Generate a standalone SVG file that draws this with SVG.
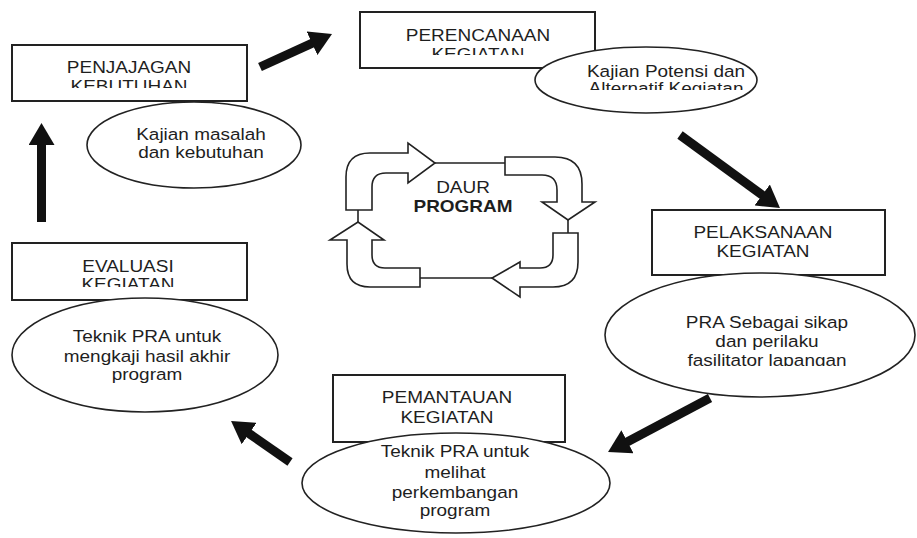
<svg xmlns="http://www.w3.org/2000/svg" width="917" height="538" viewBox="0 0 917 538">
<style>
.box{fill:#fff;stroke:#222;stroke-width:2}
.ell{fill:#fff;stroke:#222;stroke-width:1.6}
.t{font-family:"Liberation Sans",Arial,sans-serif;font-size:16.5px;fill:#1e1e1e;text-anchor:middle}
.b{font-weight:bold}
.cyc{fill:#fff;stroke:#222;stroke-width:1.6;stroke-linejoin:miter}
.thin{stroke:#222;stroke-width:1.6;fill:none}
.arr{stroke:#111;stroke-width:9;fill:none;marker-end:url(#head)}
</style>
<defs>
<marker id="head" viewBox="0 0 22 26" refX="1" refY="13" markerWidth="22" markerHeight="26" markerUnits="userSpaceOnUse" orient="auto">
<path d="M0,0 L22,13 L0,26 Z" fill="#111"/>
</marker>
<clipPath id="c1" clipPathUnits="userSpaceOnUse"><rect x="0" y="0" width="917" height="88"/></clipPath>
<clipPath id="c2" clipPathUnits="userSpaceOnUse"><rect x="0" y="0" width="917" height="55"/></clipPath>
<clipPath id="c2e" clipPathUnits="userSpaceOnUse"><rect x="0" y="0" width="917" height="90"/></clipPath>
<clipPath id="c3e" clipPathUnits="userSpaceOnUse"><rect x="0" y="0" width="917" height="366"/></clipPath>
<clipPath id="c5" clipPathUnits="userSpaceOnUse"><rect x="0" y="0" width="917" height="287"/></clipPath>
</defs>

<g id="penjajagan">
<rect class="box" x="12" y="45" width="235" height="56"/>
<g transform="translate(129,0) scale(1.15,1)"><text class="t" x="0" y="73">PENJAJAGAN</text></g>
<g clip-path="url(#c1)"><g transform="translate(129,0) scale(1.15,1)"><text class="t" x="0" y="92">KEBUTUHAN</text></g></g>
</g>
<g id="kajian-masalah">
<ellipse class="ell" cx="194" cy="145" rx="107" ry="43"/>
<g transform="translate(201,0) scale(1.15,1)"><text class="t" x="0" y="140">Kajian masalah</text><text class="t" x="0" y="158">dan kebutuhan</text></g>
</g>

<g id="perencanaan">
<rect class="box" x="360" y="12" width="235" height="56"/>
<g transform="translate(478,0) scale(1.15,1)"><text class="t" x="0" y="41">PERENCANAAN</text></g>
<g clip-path="url(#c2)"><g transform="translate(478,0) scale(1.15,1)"><text class="t" x="0" y="60">KEGIATAN</text></g></g>
</g>
<g id="kajian-potensi">
<ellipse class="ell" cx="646" cy="80" rx="111" ry="33"/>
<g transform="translate(666,0) scale(1.15,1)"><text class="t" x="0" y="77">Kajian Potensi dan</text></g>
<g clip-path="url(#c2e)"><g transform="translate(666,0) scale(1.15,1)"><text class="t" x="0" y="94">Alternatif Kegiatan</text></g></g>
</g>

<g id="pelaksanaan">
<rect class="box" x="652" y="210" width="233" height="65"/>
<g transform="translate(763,0) scale(1.15,1)"><text class="t" x="0" y="238">PELAKSANAAN</text><text class="t" x="0" y="257">KEGIATAN</text></g>
</g>
<g id="pra-sikap">
<ellipse class="ell" cx="760" cy="335" rx="155" ry="62"/>
<g transform="translate(767,0) scale(1.15,1)"><text class="t" x="0" y="328">PRA Sebagai sikap</text><text class="t" x="0" y="347">dan perilaku</text></g>
<g clip-path="url(#c3e)"><g transform="translate(767,0) scale(1.15,1)"><text class="t" x="0" y="366">fasilitator lapangan</text></g></g>
</g>

<g id="pemantauan">
<rect class="box" x="333" y="375" width="232" height="67"/>
<g transform="translate(447,0) scale(1.15,1)"><text class="t" x="0" y="403">PEMANTAUAN</text><text class="t" x="0" y="423">KEGIATAN</text></g>
</g>
<g id="teknik-melihat">
<ellipse class="ell" cx="456" cy="483" rx="154" ry="50"/>
<g transform="translate(455,0) scale(1.15,1)"><text class="t" x="0" y="457">Teknik PRA untuk</text><text class="t" x="0" y="478">melihat</text><text class="t" x="0" y="498">perkembangan</text><text class="t" x="0" y="516">program</text></g>
</g>

<g id="evaluasi">
<rect class="box" x="12" y="243" width="235" height="57"/>
<g transform="translate(128,0) scale(1.15,1)"><text class="t" x="0" y="272">EVALUASI</text></g>
<g clip-path="url(#c5)"><g transform="translate(128,0) scale(1.15,1)"><text class="t" x="0" y="290">KEGIATAN</text></g></g>
</g>
<g id="teknik-mengkaji">
<ellipse class="ell" cx="145" cy="355" rx="133" ry="57"/>
<g transform="translate(147,0) scale(1.15,1)"><text class="t" x="0" y="342">Teknik PRA untuk</text><text class="t" x="0" y="362">mengkaji hasil akhir</text><text class="t" x="0" y="380">program</text></g>
</g>

<g id="daur-program">
<path class="thin" d="M435,163 L505,163 M568,220 L568,233 M492,278 L420,278 M358,222 L358,210"/>
<path class="cyc" d="M346,210 L346,177 Q346,153 370,153 L408,153 L408,143 L435,163 L408,183 L408,173 L386,173 Q372,173 372,187 L372,210 Z"/>
<path class="cyc" d="M505,157 L555,157 Q582,157 582,184 L582,202 L595,202 L568,220 L542,202 L557,202 L557,190 Q557,175 542,175 L505,175 Z"/>
<path class="cyc" d="M553,233 L578,233 L578,262 Q578,287 553,287 L520,287 L520,297 L492,278 L520,262 L520,268 L540,268 Q553,268 553,255 Z"/>
<path class="cyc" d="M420,268 L420,287 L370,287 Q347,287 347,264 L347,240 L330,240 L358,222 L384,240 L372,240 L372,255 Q372,268 385,268 Z"/>
<g transform="translate(463,0) scale(1.15,1)"><text class="t" x="0" y="193">DAUR</text><text class="t b" x="0" y="212">PROGRAM</text></g>
</g>

<g id="connectors">
<line class="arr" x1="41.5" y1="222" x2="41.5" y2="144"/>
<line class="arr" x1="260" y1="67" x2="312.9" y2="42.8"/>
<line class="arr" x1="680" y1="135" x2="763" y2="195.6"/>
<line class="arr" x1="710" y1="398" x2="626.6" y2="442.2"/>
<line class="arr" x1="290" y1="462" x2="248.3" y2="433"/>
</g>
</svg>
